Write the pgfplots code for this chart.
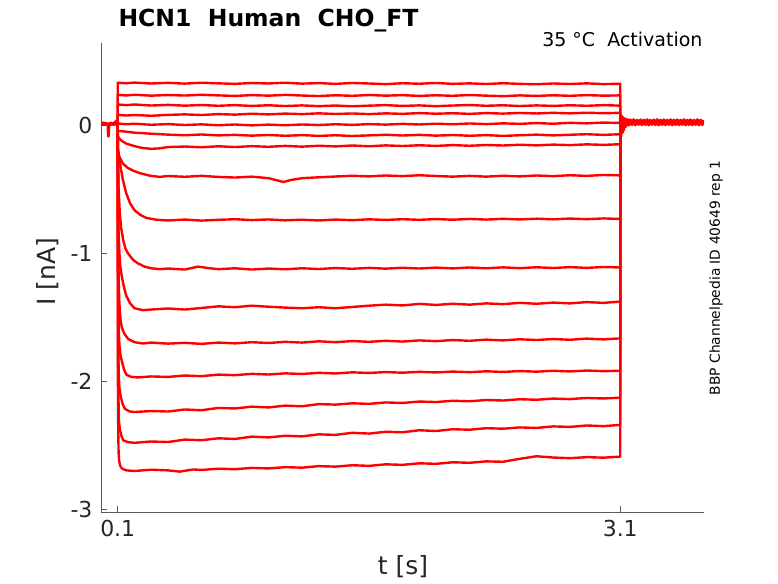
\documentclass[border=0pt]{standalone}
\usepackage{pgfplots}
\pgfplotsset{compat=1.18}
\usepackage{fontspec}
\setmainfont{DejaVu Sans}
\definecolor{axgray}{RGB}{90,90,90}
\definecolor{txtgray}{RGB}{38,38,38}
\definecolor{trc}{RGB}{255,0,0}
\pgfplotsset{trace/.style={trc, line width=2.4pt, line join=round}}
\begin{document}
\begin{tikzpicture}
\useasboundingbox (0,0) rectangle (778pt,583pt);
\begin{axis}[
  at={(101pt,71pt)}, anchor=south west,
  scale only axis, width=603pt, height=469pt,
  xmin=0, xmax=3.6, ymin=-3.02, ymax=0.64,
  axis x line*=bottom, axis y line*=left,
  axis line style={axgray, line width=0.8pt},
  tick style={axgray, line width=0.8pt},
  tick align=inside, major tick length=5.5pt,
  xtick={0.1,3.1}, xticklabels={0.1,3.1},
  ytick={-3,-2,-1,0}, yticklabels={-3,-2,-1,0},
  ticklabel style={font=\fontsize{22}{26}\selectfont, text=txtgray},
  xticklabel style={yshift=-5pt},
  yticklabel style={xshift=-5pt},
  clip=true,
]
% baseline before step
\addplot[trace] coordinates {(0,0.01) (0.005,0.0) (0.01,0.02) (0.015,0.0) (0.02,0.018) (0.025,0.002) (0.03,0.016) (0.035,0.0) (0.04,0.012) (0.042,-0.08) (0.045,-0.09) (0.048,-0.03) (0.05,0.015) (0.055,0.0) (0.06,0.018) (0.065,0.002) (0.07,0.016) (0.075,0.0) (0.08,0.02) (0.085,0.003) (0.09,0.035) (0.095,0.005) (0.1,0.02)};
% T1
\addplot[trace] coordinates {(0.1,0) (0.1,0.33) (0.15,0.326) (0.2,0.331) (0.3,0.324) (0.4,0.329) (0.5,0.323) (0.6,0.33) (0.7,0.325) (0.8,0.321) (0.9,0.328) (1.0,0.324) (1.1,0.33) (1.2,0.323) (1.3,0.327) (1.4,0.321) (1.5,0.328) (1.6,0.324) (1.7,0.319) (1.8,0.326) (1.9,0.322) (2.0,0.328) (2.1,0.321) (2.2,0.325) (2.3,0.32) (2.4,0.326) (2.5,0.321) (2.6,0.318) (2.7,0.324) (2.8,0.32) (2.9,0.325) (3.0,0.319) (3.1,0.322) (3.1,0.01)};
% T2
\addplot[trace] coordinates {(0.1,0) (0.1,0.235) (0.15,0.231) (0.2,0.236) (0.3,0.229) (0.4,0.234) (0.5,0.23) (0.6,0.236) (0.7,0.231) (0.8,0.227) (0.9,0.233) (1.0,0.229) (1.1,0.235) (1.2,0.23) (1.3,0.226) (1.4,0.232) (1.5,0.228) (1.6,0.234) (1.7,0.229) (1.8,0.233) (1.9,0.227) (2.0,0.232) (2.1,0.228) (2.2,0.234) (2.3,0.229) (2.4,0.225) (2.5,0.231) (2.6,0.227) (2.7,0.232) (2.8,0.228) (2.9,0.233) (3.0,0.229) (3.1,0.231) (3.1,0.01)};
% T3
\addplot[trace] coordinates {(0.1,0) (0.1,0.16) (0.15,0.155) (0.2,0.16) (0.3,0.152) (0.4,0.157) (0.5,0.151) (0.6,0.156) (0.7,0.15) (0.8,0.155) (0.9,0.149) (1.0,0.154) (1.1,0.148) (1.2,0.153) (1.3,0.147) (1.4,0.152) (1.5,0.146) (1.6,0.151) (1.7,0.155) (1.8,0.149) (1.9,0.153) (2.0,0.147) (2.1,0.152) (2.2,0.156) (2.3,0.15) (2.4,0.154) (2.5,0.148) (2.6,0.153) (2.7,0.149) (2.8,0.154) (2.9,0.15) (3.0,0.155) (3.1,0.151) (3.1,0.01)};
% T4
\addplot[trace] coordinates {(0.1,0) (0.1,0.08) (0.15,0.074) (0.2,0.078) (0.3,0.072) (0.4,0.079) (0.5,0.083) (0.6,0.078) (0.7,0.085) (0.8,0.081) (0.9,0.088) (1.0,0.083) (1.1,0.089) (1.2,0.085) (1.3,0.091) (1.4,0.086) (1.5,0.09) (1.6,0.085) (1.7,0.091) (1.8,0.087) (1.9,0.093) (2.0,0.088) (2.1,0.092) (2.2,0.087) (2.3,0.093) (2.4,0.089) (2.5,0.094) (2.6,0.09) (2.7,0.095) (2.8,0.091) (2.9,0.096) (3.0,0.092) (3.1,0.095) (3.1,0.01)};
% T5
\addplot[trace] coordinates {(0.1,0) (0.1,0.012) (0.15,0.006) (0.2,0.01) (0.3,0.002) (0.4,0.007) (0.5,0.0) (0.6,0.005) (0.7,-0.002) (0.8,0.004) (0.9,-0.003) (1.0,0.003) (1.1,-0.002) (1.2,0.004) (1.3,0.0) (1.4,0.006) (1.5,0.001) (1.6,0.007) (1.7,0.003) (1.8,0.009) (1.9,0.004) (2.0,0.01) (2.1,0.006) (2.2,0.012) (2.3,0.007) (2.4,0.013) (2.5,0.009) (2.6,0.015) (2.7,0.01) (2.8,0.017) (2.9,0.013) (3.0,0.019) (3.1,0.016)};
% T6
\addplot[trace] coordinates {(0.1,0) (0.1,-0.045) (0.15,-0.052) (0.2,-0.06) (0.3,-0.068) (0.4,-0.075) (0.5,-0.08) (0.6,-0.074) (0.7,-0.081) (0.8,-0.077) (0.9,-0.083) (1.0,-0.078) (1.1,-0.084) (1.2,-0.079) (1.3,-0.085) (1.4,-0.08) (1.5,-0.086) (1.6,-0.081) (1.7,-0.076) (1.8,-0.082) (1.9,-0.077) (2.0,-0.083) (2.1,-0.078) (2.2,-0.084) (2.3,-0.079) (2.4,-0.085) (2.5,-0.08) (2.6,-0.075) (2.7,-0.081) (2.8,-0.076) (2.9,-0.072) (3.0,-0.077) (3.1,-0.072) (3.1,0.01)};
% T7
\addplot[trace] coordinates {(0.1,0) (0.1,-0.09) (0.12,-0.12) (0.15,-0.145) (0.2,-0.165) (0.25,-0.18) (0.3,-0.186) (0.35,-0.182) (0.4,-0.172) (0.5,-0.168) (0.6,-0.174) (0.7,-0.166) (0.8,-0.172) (0.9,-0.165) (1.0,-0.17) (1.1,-0.163) (1.2,-0.169) (1.3,-0.162) (1.4,-0.167) (1.5,-0.16) (1.6,-0.166) (1.7,-0.159) (1.8,-0.164) (1.9,-0.158) (2.0,-0.163) (2.1,-0.157) (2.2,-0.162) (2.3,-0.156) (2.4,-0.16) (2.5,-0.154) (2.6,-0.159) (2.7,-0.153) (2.8,-0.157) (2.9,-0.151) (3.0,-0.155) (3.1,-0.15) (3.1,0.01)};
% T8
\addplot[trace] coordinates {(0.1,0) (0.1,-0.18) (0.11,-0.25) (0.13,-0.30) (0.16,-0.335) (0.19,-0.355) (0.23,-0.375) (0.29,-0.395) (0.35,-0.405) (0.4,-0.398) (0.5,-0.404) (0.6,-0.397) (0.7,-0.405) (0.8,-0.41) (0.9,-0.403) (1.0,-0.415) (1.06,-0.435) (1.09,-0.445) (1.13,-0.43) (1.2,-0.415) (1.3,-0.408) (1.4,-0.402) (1.5,-0.396) (1.6,-0.401) (1.7,-0.394) (1.8,-0.399) (1.9,-0.392) (2.0,-0.398) (2.1,-0.403) (2.2,-0.397) (2.3,-0.403) (2.4,-0.396) (2.5,-0.401) (2.6,-0.394) (2.7,-0.399) (2.8,-0.392) (2.9,-0.397) (3.0,-0.39) (3.1,-0.393) (3.1,0.01)};
% T9
\addplot[trace] coordinates {(0.1,0) (0.1,-0.2) (0.107,-0.25) (0.12,-0.35) (0.131,-0.43) (0.15,-0.53) (0.173,-0.61) (0.2,-0.665) (0.233,-0.70) (0.27,-0.725) (0.334,-0.74) (0.4,-0.745) (0.5,-0.738) (0.6,-0.746) (0.7,-0.74) (0.8,-0.735) (0.9,-0.742) (1.0,-0.737) (1.1,-0.744) (1.2,-0.739) (1.3,-0.745) (1.4,-0.738) (1.5,-0.743) (1.6,-0.736) (1.7,-0.741) (1.8,-0.735) (1.9,-0.74) (2.0,-0.734) (2.1,-0.739) (2.2,-0.733) (2.3,-0.738) (2.4,-0.732) (2.5,-0.737) (2.6,-0.731) (2.7,-0.736) (2.8,-0.73) (2.9,-0.735) (3.0,-0.729) (3.1,-0.733) (3.1,0.01)};
% T10
\addplot[trace] coordinates {(0.1,0) (0.102,-0.3) (0.105,-0.5) (0.112,-0.68) (0.12,-0.8) (0.133,-0.9) (0.145,-0.96) (0.16,-1.0) (0.19,-1.05) (0.22,-1.08) (0.26,-1.105) (0.3,-1.118) (0.35,-1.125) (0.4,-1.12) (0.5,-1.128) (0.58,-1.105) (0.65,-1.118) (0.7,-1.125) (0.8,-1.118) (0.9,-1.128) (1.0,-1.12) (1.1,-1.126) (1.2,-1.118) (1.3,-1.124) (1.4,-1.116) (1.5,-1.122) (1.6,-1.115) (1.7,-1.121) (1.8,-1.114) (1.9,-1.12) (2.0,-1.113) (2.1,-1.119) (2.2,-1.112) (2.3,-1.118) (2.4,-1.111) (2.5,-1.117) (2.6,-1.11) (2.7,-1.116) (2.8,-1.109) (2.9,-1.115) (3.0,-1.108) (3.1,-1.112) (3.1,0.01)};
% T11
\addplot[trace] coordinates {(0.1,0) (0.102,-0.4) (0.104,-0.8) (0.11,-1.0) (0.115,-1.1) (0.124,-1.18) (0.133,-1.24) (0.15,-1.33) (0.173,-1.39) (0.2,-1.43) (0.25,-1.445) (0.3,-1.44) (0.4,-1.432) (0.5,-1.44) (0.6,-1.428) (0.7,-1.415) (0.8,-1.422) (0.9,-1.41) (1.0,-1.418) (1.1,-1.425) (1.2,-1.43) (1.3,-1.422) (1.4,-1.43) (1.5,-1.42) (1.6,-1.41) (1.7,-1.402) (1.8,-1.408) (1.9,-1.396) (2.0,-1.404) (2.1,-1.395) (2.2,-1.402) (2.3,-1.392) (2.4,-1.398) (2.5,-1.388) (2.6,-1.395) (2.7,-1.386) (2.8,-1.392) (2.9,-1.382) (3.0,-1.388) (3.1,-1.378) (3.1,0.01)};
% T12
\addplot[trace] coordinates {(0.1,0) (0.102,-0.6) (0.103,-1.0) (0.106,-1.25) (0.11,-1.4) (0.117,-1.52) (0.124,-1.58) (0.14,-1.63) (0.163,-1.67) (0.2,-1.695) (0.25,-1.705) (0.3,-1.698) (0.4,-1.706) (0.5,-1.7) (0.6,-1.708) (0.7,-1.698) (0.8,-1.704) (0.9,-1.695) (1.0,-1.701) (1.1,-1.692) (1.2,-1.698) (1.3,-1.688) (1.4,-1.695) (1.5,-1.686) (1.6,-1.692) (1.7,-1.684) (1.8,-1.69) (1.9,-1.681) (2.0,-1.687) (2.1,-1.678) (2.2,-1.684) (2.3,-1.675) (2.4,-1.681) (2.5,-1.672) (2.6,-1.678) (2.7,-1.67) (2.8,-1.676) (2.9,-1.667) (3.0,-1.673) (3.1,-1.665) (3.1,0.01)};
% T13
\addplot[trace] coordinates {(0.1,0) (0.101,-0.7) (0.103,-1.3) (0.106,-1.6) (0.11,-1.72) (0.117,-1.8) (0.124,-1.84) (0.138,-1.91) (0.153,-1.95) (0.18,-1.965) (0.22,-1.97) (0.3,-1.962) (0.4,-1.966) (0.5,-1.955) (0.6,-1.96) (0.7,-1.948) (0.8,-1.952) (0.9,-1.942) (1.0,-1.947) (1.1,-1.938) (1.2,-1.943) (1.3,-1.934) (1.4,-1.939) (1.5,-1.93) (1.6,-1.935) (1.7,-1.928) (1.8,-1.933) (1.9,-1.926) (2.0,-1.931) (2.1,-1.924) (2.2,-1.929) (2.3,-1.922) (2.4,-1.927) (2.5,-1.92) (2.6,-1.925) (2.7,-1.918) (2.8,-1.923) (2.9,-1.916) (3.0,-1.921) (3.1,-1.918) (3.1,0.01)};
% T14
\addplot[trace] coordinates {(0.1,0) (0.101,-0.8) (0.102,-1.5) (0.105,-1.9) (0.109,-2.04) (0.118,-2.12) (0.13,-2.18) (0.143,-2.215) (0.17,-2.235) (0.2,-2.24) (0.3,-2.232) (0.4,-2.236) (0.5,-2.22) (0.6,-2.226) (0.7,-2.208) (0.8,-2.212) (0.9,-2.198) (1.0,-2.204) (1.1,-2.19) (1.2,-2.195) (1.3,-2.178) (1.4,-2.182) (1.5,-2.172) (1.6,-2.176) (1.7,-2.165) (1.8,-2.169) (1.9,-2.158) (2.0,-2.162) (2.1,-2.152) (2.2,-2.156) (2.3,-2.146) (2.4,-2.15) (2.5,-2.14) (2.6,-2.144) (2.7,-2.135) (2.8,-2.139) (2.9,-2.13) (3.0,-2.134) (3.1,-2.128) (3.1,0.01)};
% T15
\addplot[trace] coordinates {(0.1,0) (0.101,-1.0) (0.102,-1.8) (0.105,-2.2) (0.108,-2.32) (0.113,-2.38) (0.123,-2.43) (0.133,-2.46) (0.16,-2.475) (0.2,-2.48) (0.3,-2.47) (0.4,-2.474) (0.5,-2.455) (0.6,-2.46) (0.7,-2.445) (0.8,-2.45) (0.9,-2.432) (1.0,-2.438) (1.1,-2.425) (1.2,-2.43) (1.3,-2.414) (1.4,-2.418) (1.5,-2.402) (1.6,-2.408) (1.7,-2.394) (1.8,-2.398) (1.9,-2.382) (2.0,-2.388) (2.1,-2.374) (2.2,-2.378) (2.3,-2.366) (2.4,-2.37) (2.5,-2.36) (2.6,-2.364) (2.7,-2.352) (2.8,-2.356) (2.9,-2.345) (3.0,-2.35) (3.1,-2.34) (3.1,0.01)};
% T16
\addplot[trace] coordinates {(0.1,0) (0.1005,-1.2) (0.101,-2.0) (0.103,-2.4) (0.105,-2.55) (0.108,-2.62) (0.115,-2.66) (0.124,-2.68) (0.15,-2.695) (0.2,-2.7) (0.3,-2.69) (0.4,-2.695) (0.47,-2.705) (0.55,-2.688) (0.6,-2.692) (0.7,-2.682) (0.8,-2.686) (0.9,-2.676) (1.0,-2.68) (1.1,-2.67) (1.2,-2.674) (1.3,-2.662) (1.4,-2.666) (1.5,-2.655) (1.6,-2.66) (1.7,-2.648) (1.8,-2.652) (1.9,-2.64) (2.0,-2.644) (2.1,-2.632) (2.2,-2.636) (2.3,-2.625) (2.4,-2.628) (2.5,-2.605) (2.6,-2.585) (2.7,-2.595) (2.8,-2.6) (2.9,-2.592) (3.0,-2.596) (3.1,-2.588) (3.1,0.01)};
% tail after step
\addplot[trc, line width=3pt, line join=round] coordinates {(3.1,0.06) (3.104,-0.09) (3.108,0.07) (3.112,-0.06) (3.116,0.06) (3.12,-0.04) (3.125,0.05) (3.13,-0.015) (3.135,0.045) (3.14,0.0) (3.145,0.042) (3.15,0.0) (3.16,0.04) (3.17,0.002) (3.18,0.042) (3.19,0.0) (3.2,0.038) (3.21,0.004) (3.22,0.041) (3.23,0.001) (3.24,0.039) (3.25,0.003) (3.26,0.042) (3.27,0.0) (3.28,0.038) (3.29,0.004) (3.3,0.04) (3.31,0.002) (3.32,0.042) (3.33,0.0) (3.34,0.039) (3.35,0.003) (3.36,0.041) (3.37,0.001) (3.38,0.038) (3.39,0.004) (3.4,0.042) (3.41,0.0) (3.42,0.039) (3.43,0.003) (3.44,0.041) (3.45,0.001) (3.46,0.038) (3.47,0.004) (3.48,0.042) (3.49,0.0) (3.5,0.039) (3.51,0.003) (3.52,0.041) (3.53,0.001) (3.54,0.038) (3.55,0.004) (3.56,0.042) (3.57,0.0) (3.58,0.039) (3.59,0.003) (3.6,0.037)};
\end{axis}
\node[anchor=base west, font=\fontsize{23.5}{28}\selectfont\bfseries, text=black] at (115pt,556pt) {HCN1\ \ Human\ \ CHO\_FT};
\node[anchor=base east, font=\fontsize{19}{23}\selectfont, text=black] at (706pt,536pt) {35 °C\ \ Activation};
\node[rotate=90, font=\fontsize{13.8}{16}\selectfont, text=black] at (716pt,305pt) {BBP Channelpedia ID 40649 rep 1};
\node[anchor=base, font=\fontsize{25}{30}\selectfont, text=txtgray] at (403pt,9pt) {t [s]};
\node[rotate=90, font=\fontsize{25}{30}\selectfont, text=txtgray] at (48pt,311pt) {I [nA]};
\end{tikzpicture}
\end{document}
